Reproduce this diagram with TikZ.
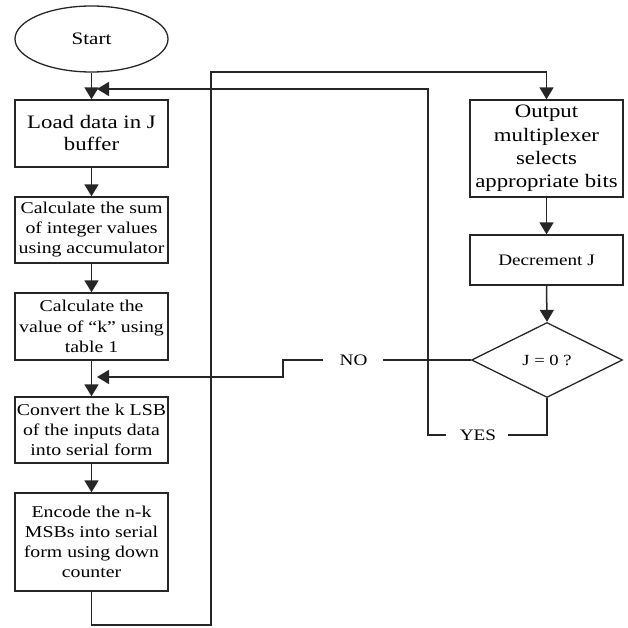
\documentclass[tikz,border=0pt]{standalone}
\usepackage{fontspec}
\setmainfont[FakeStretch=1.2]{Liberation Serif}
\usetikzlibrary{shapes.geometric,arrows.meta}
\begin{document}
\begin{tikzpicture}[x=1pt,y=-1pt,
  every node/.style={text=black},
  box/.style={draw=black!85,line width=1.3pt,minimum width=153pt,inner sep=0pt,align=center},
  conn/.style={draw=black!85,line width=1.5pt},
  arr/.style={conn,-{Triangle[length=12pt,width=14pt]}},
  lbl/.style={inner sep=0pt,font=\fontsize{16}{18}\selectfont}]
\useasboundingbox (0,0) rectangle (628,628);
\node[draw=black!85,line width=1.3pt,ellipse,minimum width=153pt,minimum height=66pt,inner sep=0pt,font=\fontsize{17.5}{20}\selectfont] (start) at (91.5,39) {Start};
\node[box,minimum height=67pt,font=\fontsize{19}{22}\selectfont] (load) at (91.5,133.5) {Load data in J\\buffer};
\node[box,minimum height=66pt,font=\fontsize{16.5}{20}\selectfont] (sum) at (91.5,230) {Calculate the sum\\of integer values\\using accumulator};
\node[box,minimum height=67pt,font=\fontsize{16.5}{20.5}\selectfont] (kval) at (91.5,326.5) {Calculate the\\value of ``k'' using\\table 1};
\node[box,minimum height=66pt,font=\fontsize{16.5}{20}\selectfont] (conv) at (91.5,430) {Convert the k LSB\\of the inputs data\\into serial form};
\node[box,minimum height=98pt,font=\fontsize{16.5}{20}\selectfont] (enc) at (91.5,542) {Encode the n-k\\MSBs into serial\\form using down\\counter};
\node[box,minimum height=97pt,font=\fontsize{19}{23.3}\selectfont] (out) at (546.5,148.5) {Output\\multiplexer\\selects\\appropriate bits};
\node[box,minimum height=50pt,font=\fontsize{16}{20}\selectfont] (dec) at (546.5,260) {Decrement J};
\node[draw=black!85,line width=1.3pt,diamond,minimum width=151pt,minimum height=75pt,inner sep=0pt,font=\fontsize{15.5}{18}\selectfont] (dia) at (547,360) {J = 0 ?};
\node[lbl] (no) at (353.5,360) {NO};
\node[lbl] (yes) at (478,435) {YES};
\coordinate (noT) at (97,377);
\coordinate (yesT) at (97,89);

\draw[arr] (start.south) -- (load.north);
\draw[arr] (load.south) -- (sum.north);
\draw[arr] (sum.south) -- (kval.north);
\draw[arr] (kval.south) -- (conv.north);
\draw[arr] (conv.south) -- (enc.north);
\draw[arr] (enc.south) -- (91.5,625) -- (211,625) -- (211,72) -- (out.north |- 0,72) -- (out.north);
\draw[arr] (out.south) -- (dec.north);
\draw[arr] (dec.south) -- (dia.north);
\draw[conn] (dia.west) -- ([xshift=15pt]no.east);
\draw[arr] ([xshift=-16pt]no.west) -- (283,360) -- (283,377) -- (noT);
\draw[conn] (dia.south) -- (547,435) -- ([xshift=12pt]yes.east);
\draw[arr] ([xshift=-14pt]yes.west) -- (428,435) -- (428,89) -- (yesT);
\end{tikzpicture}
\end{document}
